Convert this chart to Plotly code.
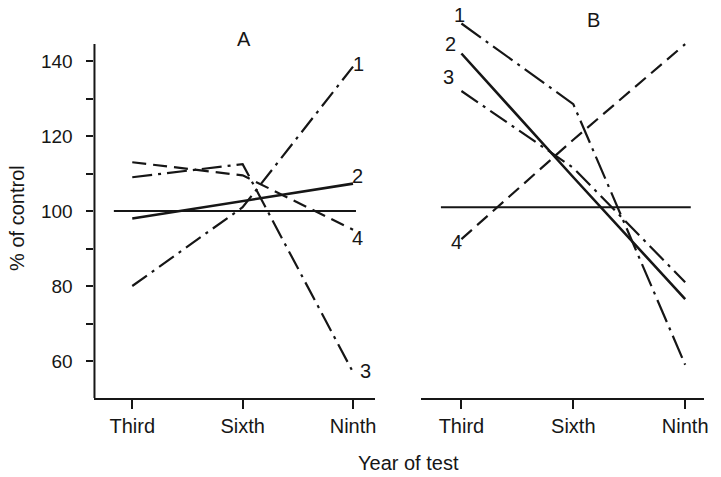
import plotly.graph_objects as go

# Test years and their labels
years = [3, 6, 9]
year_labels = ["Third", "Sixth", "Ninth"]

# Panel A: % of control for groups 1-4
a_group1 = [80, 101, 138.5]
a_group2 = [98, 102.7, 107.3]
a_group3 = [109, 112.5, 57]
a_group4 = [113, 109.5, 95]

# Panel B: % of control for groups 1-4
b_group1 = [150, 128.5, 59]
b_group2 = [142, 109, 76.5]
b_group3 = [132, 111.5, 81]
b_group4 = [92.5, 119, 144.5]

# Control level lines
control_a = 100
control_b = 101
control_span_a = [2.5, 9.08]
control_span_b = [2.45, 9.15]

y_ticks = [60, 70, 80, 90, 100, 110, 120, 130, 140]
y_tick_text = ["60", "", "80", "", "100", "", "120", "", "140"]

FONT = "Liberation Sans, Arial, Helvetica, sans-serif"
INK = "#161616"
W, H = 721, 477

# line styles per group number
styles = {
    1: dict(width=2.2, dash="18px,6px,3px,6px"),
    2: dict(width=2.6, dash="solid"),
    3: dict(width=2.2, dash="20px,6px,3px,6px"),
    4: dict(width=2.2, dash="14px,7px"),
}
styles_b = dict(styles)
styles_b[1] = dict(width=2.2, dash="24px,6px,3px,6px")

fig = go.Figure()

panel_a = {1: a_group1, 2: a_group2, 3: a_group3, 4: a_group4}
panel_b = {1: b_group1, 2: b_group2, 3: b_group3, 4: b_group4}

# control lines
fig.add_trace(go.Scatter(x=control_span_a, y=[control_a, control_a], mode="lines",
                         line=dict(color=INK, width=1.9), xaxis="x", yaxis="y",
                         showlegend=False, hoverinfo="skip"))
fig.add_trace(go.Scatter(x=control_span_b, y=[control_b, control_b], mode="lines",
                         line=dict(color=INK, width=1.9), xaxis="x2", yaxis="y",
                         showlegend=False, hoverinfo="skip"))

for g, vals in panel_a.items():
    fig.add_trace(go.Scatter(x=years, y=vals, mode="lines", name=f"A{g}",
                             line=dict(color=INK, **styles[g]),
                             xaxis="x", yaxis="y", showlegend=False))
for g, vals in panel_b.items():
    fig.add_trace(go.Scatter(x=years, y=vals, mode="lines", name=f"B{g}",
                             line=dict(color=INK, **styles_b[g]),
                             xaxis="x2", yaxis="y", showlegend=False))

label_font = dict(size=20, family=FONT, color=INK)
centered = dict(showarrow=False, xanchor="center", yanchor="middle", font=label_font)

# group number labels: at the end of each line in A, at the start in B
label_shift_a = {1: (5, 3), 2: (4, 8), 3: (12, 1), 4: (4, -8)}
label_shift_b = {1: (-2, 9), 2: (-11, 9.5), 3: (-13, 14), 4: (-5, -3)}
annotations = []
for g, vals in panel_a.items():
    dx, dy = label_shift_a[g]
    annotations.append(dict(x=years[-1], y=vals[-1], xref="x", yref="y", text=str(g),
                            xshift=dx, yshift=dy, **centered))
for g, vals in panel_b.items():
    dx, dy = label_shift_b[g]
    annotations.append(dict(x=years[0], y=vals[0], xref="x2", yref="y", text=str(g),
                            xshift=dx, yshift=dy, **centered))

# panel letters
annotations.append(dict(x=6, y=146, xref="x", yref="y", text="A", xshift=1.5, **centered))
annotations.append(dict(x=6, y=151, xref="x2", yref="y", text="B", xshift=20.5, **centered))

# axis titles
annotations.append(dict(x=16.5 / W, y=1 - 217.5 / H, xref="paper", yref="paper",
                        text="% of control", textangle=-90, **centered))
annotations.append(dict(x=411 / W, y=1 - 463 / H, xref="paper", yref="paper",
                        text="Year of test", **centered))

y_lo = 100 - (398 - 211) / 3.75
y_hi = 100 + 211 / 3.75

xaxis_common = dict(
    tickvals=years, ticktext=year_labels, ticks="outside", ticklen=9, tickwidth=2,
    tickcolor=INK, showline=True, linewidth=2, linecolor=INK, showgrid=False,
    zeroline=False, anchor="y", tickfont=dict(size=20, family=FONT, color=INK),
    fixedrange=True,
)

fig.update_layout(
    width=W, height=H,
    margin=dict(l=0, r=0, t=0, b=0, pad=0),
    paper_bgcolor="white", plot_bgcolor="white",
    xaxis=dict(domain=[95 / W, 377 / W], range=[3 - 38 / 37, 9 + 22 / 37], **xaxis_common),
    xaxis2=dict(domain=[423 / W, 708 / W], range=[3 - 41 / 37.5, 9 + 19 / 37.5], **xaxis_common),
    yaxis=dict(domain=[1 - 398 / H, 1], range=[y_lo, y_hi], tickvals=y_ticks,
               ticktext=y_tick_text, ticks="outside", ticklen=7, tickwidth=2,
               tickcolor=INK, showline=False, showgrid=False, zeroline=False,
               anchor="x", tickfont=dict(size=19, family=FONT, color=INK),
               ticklabelstandoff=10, fixedrange=True),
    annotations=annotations,
    shapes=[dict(type="line", xref="x domain", yref="y", x0=0, x1=0, y0=y_lo, y1=144.5,
                 line=dict(color=INK, width=2))],
)

fig.write_html("out.html")
